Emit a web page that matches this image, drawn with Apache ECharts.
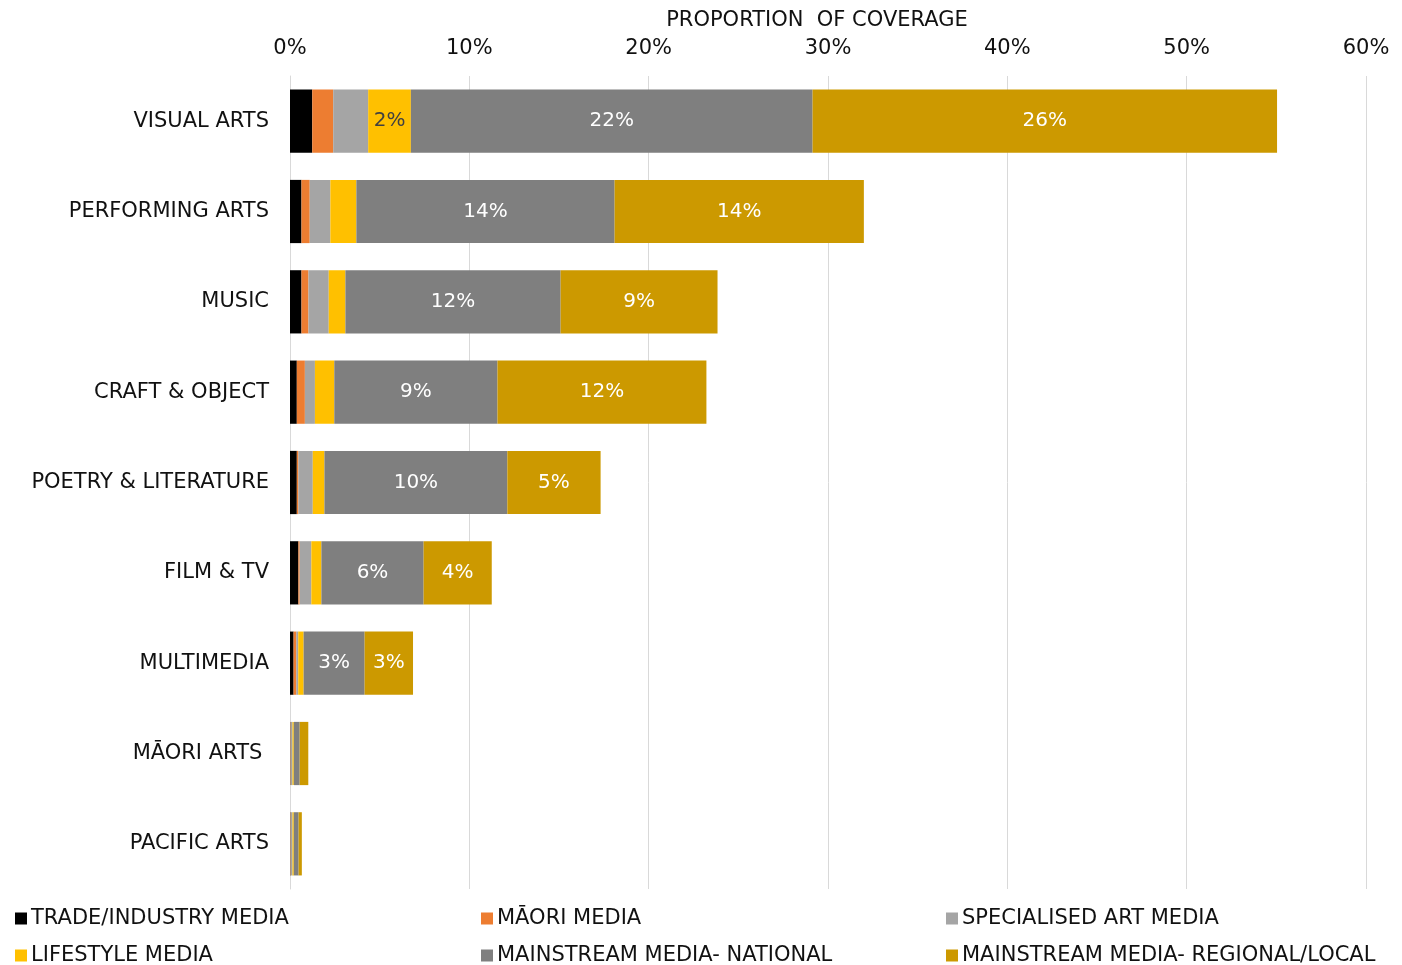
<!DOCTYPE html>
<html>
<head>
<meta charset="utf-8">
<script src="https://cdn.jsdelivr.net/npm/echarts@6/dist/echarts.min.js"></script>
<style>
  html, body { margin: 0; padding: 0; background: #fff; }
  #chart { width: 1402px; height: 965px; }
</style>
</head>
<body>
<div id="chart"></div>
<script>
var categories = ['VISUAL ARTS', 'PERFORMING ARTS', 'MUSIC', 'CRAFT & OBJECT', 'POETRY & LITERATURE', 'FILM & TV', 'MULTIMEDIA', 'MĀORI ARTS ', 'PACIFIC ARTS'];
var seriesNames = ['TRADE/INDUSTRY MEDIA', 'MĀORI MEDIA', 'SPECIALISED ART MEDIA', 'LIFESTYLE MEDIA', 'MAINSTREAM MEDIA- NATIONAL', 'MAINSTREAM MEDIA- REGIONAL/LOCAL'];
// values in % of coverage
var trade       = [1.24, 0.64, 0.64, 0.38, 0.38, 0.47, 0.20, 0.02, 0.02];
var maori       = [1.17, 0.46, 0.39, 0.45, 0.09, 0.07, 0.15, 0.02, 0.02];
var specialised = [1.95, 1.15, 1.13, 0.56, 0.80, 0.65, 0.11, 0.10, 0.10];
var lifestyle   = [2.38, 1.45, 0.93, 1.08, 0.65, 0.56, 0.30, 0.07, 0.07];
var national    = [22.4, 14.4, 12.0, 9.1, 10.2, 5.7, 3.4, 0.33, 0.27];
var regional    = [25.9, 13.9, 8.75, 11.65, 5.2, 3.8, 2.7, 0.48, 0.18];
var xTicks = [0, 10, 20, 30, 40, 50, 60];

var colors = ['#000000', '#ED7D31', '#A5A5A5', '#FFC000', '#7F7F7F', '#CC9900'];
var labelColors = ['#ffffff', '#ffffff', '#ffffff', '#404040', '#ffffff', '#ffffff'];
var font = 'DejaVu Sans, Verdana, sans-serif';
var textColor = '#111111';

var myChart = echarts.init(document.getElementById('chart'));

var allData = [trade, maori, specialised, lifestyle, national, regional];
var series = allData.map(function (d, i) {
    return {
        name: seriesNames[i],
        type: 'bar',
        stack: 'total',
        barCategoryGap: '30%',
        itemStyle: { color: colors[i] },
        label: {
            show: true,
            position: 'inside',
            color: labelColors[i],
            fontSize: 20,
            fontFamily: font,
            formatter: function (p) {
                return p.value >= 2.2 ? Math.round(p.value) + '%' : '';
            }
        },
        data: d
    };
});

// one legend per column, two rows each
function legendCol(left, names) {
    return {
        orient: 'vertical',
        left: left,
        top: 908,
        height: 120,
        padding: 0,
        itemWidth: 12,
        itemHeight: 12,
        itemGap: 16,
        icon: 'rect',
        textStyle: { fontSize: 21, lineHeight: 20, fontFamily: font, color: textColor, padding: [0, 0, 0, -1] },
        data: names
    };
}

option = {
    color: colors,
    animation: false,
    grid: {
        left: 290,
        right: 36,
        top: 76,
        bottom: 76,
        outerBoundsMode: 'none'
    },
    legend: [
        legendCol(15, [seriesNames[0], seriesNames[3]]),
        legendCol(481, [seriesNames[1], seriesNames[4]]),
        legendCol(946, [seriesNames[2], seriesNames[5]])
    ],
    xAxis: {
        type: 'value',
        position: 'top',
        min: xTicks[0],
        max: xTicks[xTicks.length - 1],
        interval: 10,
        name: 'PROPORTION  OF COVERAGE',
        nameLocation: 'middle',
        nameGap: 45,
        nameTextStyle: { fontSize: 21, fontFamily: font, color: textColor, padding: [0, 22, 0, 0] },
        axisLine: { show: false },
        axisTick: { show: false },
        axisLabel: {
            formatter: '{value}%',
            fontSize: 21,
            fontFamily: font,
            color: textColor,
            margin: 17
        },
        splitLine: { lineStyle: { color: '#D9D9D9', width: 1 } }
    },
    yAxis: {
        type: 'category',
        inverse: true,
        data: categories,
        axisTick: { show: false },
        axisLine: { show: true, lineStyle: { color: '#D9D9D9' } },
        axisLabel: {
            fontSize: 21,
            fontFamily: font,
            color: textColor,
            margin: 21
        }
    },
    series: series
};
myChart.setOption(option);
</script>
</body>
</html>
